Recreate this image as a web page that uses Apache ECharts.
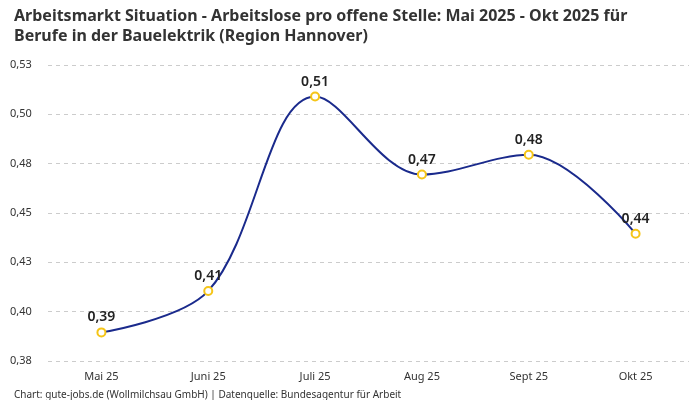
<!DOCTYPE html>
<html>
<head>
<meta charset="utf-8">
<script src="https://cdn.jsdelivr.net/npm/echarts@6/dist/echarts.min.js"></script>
<style>
  html, body { margin: 0; padding: 0; background: #fff; }
  #main { width: 700px; height: 400px; }
</style>
</head>
<body>
<div id="main"></div>
<script>
var months = ['Mai 25', 'Juni 25', 'Juli 25', 'Aug 25', 'Sept 25', 'Okt 25'];
var ratio = [0.3895, 0.4105, 0.509, 0.4695, 0.4795, 0.4395];

var myChart = echarts.init(document.getElementById('main'));

// deutsche Schreibweise, sauber gerundet (0.475 -> 0,48)
function komma(v) {
    var r = Math.round(v * 100 + 1e-6) / 100;
    return r.toFixed(2).replace('.', ',');
}

var option = {
    backgroundColor: '#fff',
    textStyle: { fontFamily: 'Noto Sans' },
    title: [{
        text: 'Arbeitsmarkt Situation - Arbeitslose pro offene Stelle: Mai 2025 - Okt 2025 für\nBerufe in der Bauelektrik (Region Hannover)',
        left: 9,
        top: 1,
        textStyle: {
            fontFamily: 'Noto Sans',
            fontSize: 16,
            fontWeight: 'bold',
            color: '#333',
            lineHeight: 20
        }
    }, {
        text: 'Chart: gute-jobs.de (Wollmilchsau GmbH) | Datenquelle: Bundesagentur für Arbeit',
        left: 9,
        top: 385,
        textStyle: {
            fontFamily: 'Noto Sans',
            fontSize: 10,
            fontWeight: 'normal',
            color: '#333'
        }
    }],
    grid: {
        left: 48,
        right: 11,
        top: 65,
        bottom: 39
    },
    xAxis: {
        type: 'category',
        data: months,
        axisLine: { show: false },
        axisTick: { show: false },
        axisLabel: {
            color: '#333',
            fontSize: 11,
            margin: 10
        }
    },
    yAxis: {
        type: 'value',
        min: 0.375,
        max: 0.525,
        interval: 0.025,
        axisLabel: {
            color: '#333',
            fontSize: 11,
            align: 'left',
            margin: 38,
            formatter: function (v) { return komma(v); }
        },
        splitLine: {
            lineStyle: { color: '#ccc', type: [4, 4] }
        }
    },
    series: [{
        type: 'line',
        data: ratio,
        smooth: 0.35,
        symbol: 'emptyCircle',
        symbolSize: 8,
        lineStyle: { color: '#1a2a8c', width: 2 },
        itemStyle: { color: '#f5c518', borderColor: '#f5c518', borderWidth: 2 },
        label: {
            show: true,
            position: 'top',
            distance: 3,
            color: '#222',
            fontSize: 14,
            fontWeight: 600,
            formatter: function (p) { return komma(p.value); }
        }
    }]
};
myChart.setOption(option, true);
</script>
</body>
</html>
